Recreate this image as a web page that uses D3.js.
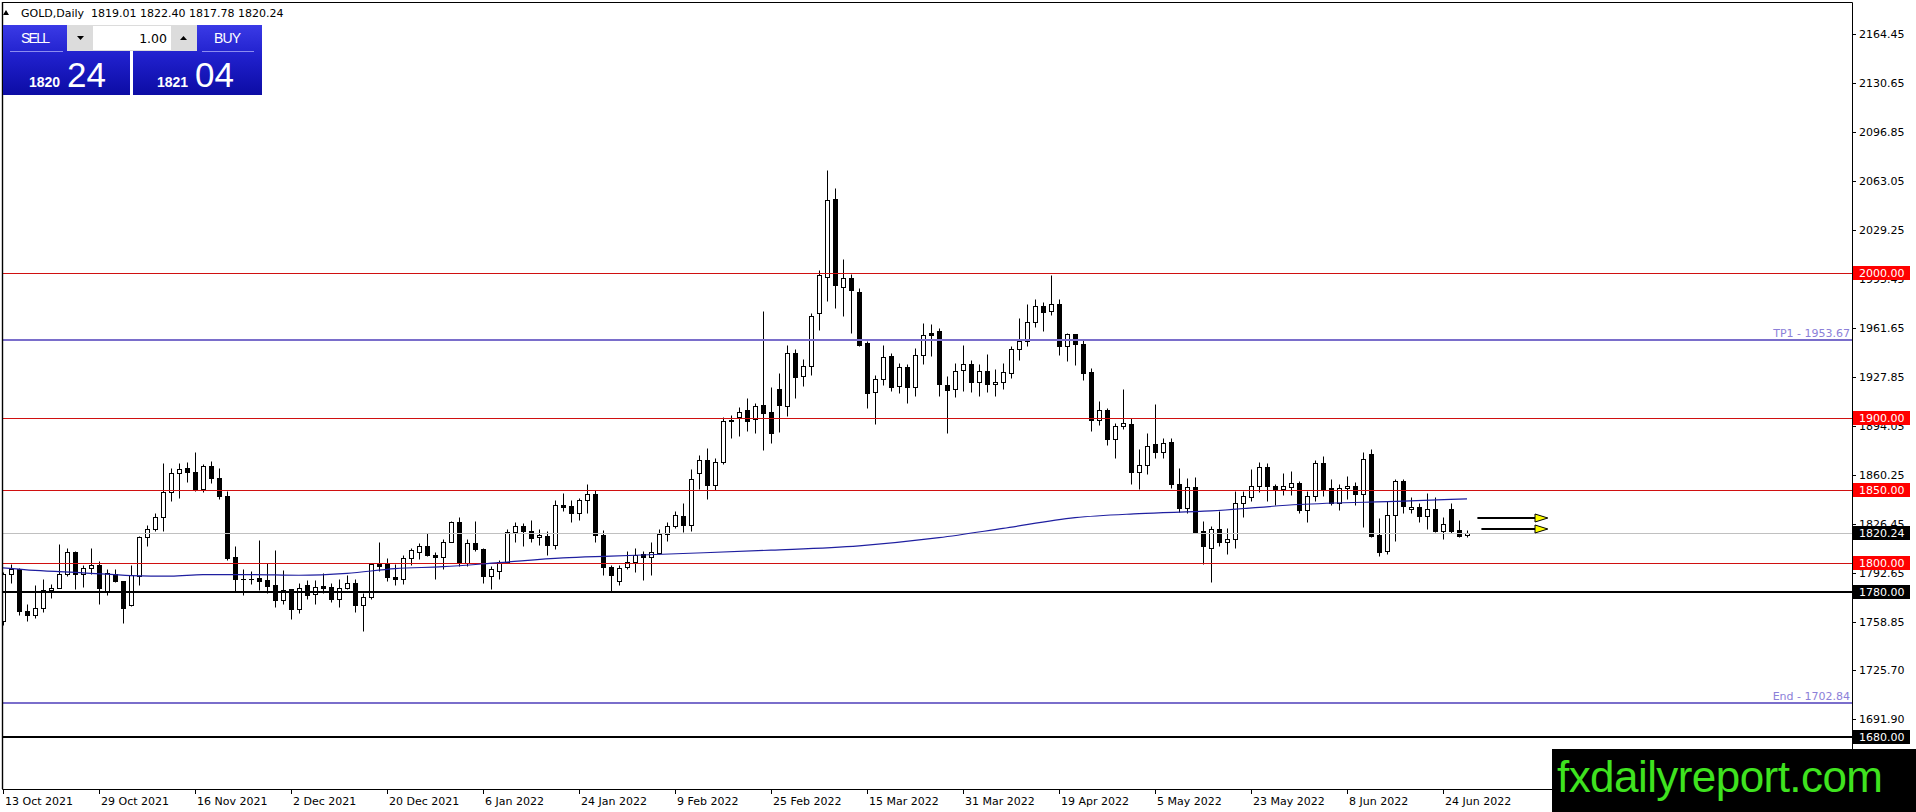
<!DOCTYPE html>
<html>
<head>
<meta charset="utf-8">
<style>
body{margin:0;background:#fff;overflow:hidden}
svg{display:block}
text{font-family:"DejaVu Sans",sans-serif}
</style>
<script src="https://d3js.org/d3.v7.min.js"></script>
</head>
<body>
<svg id="chart" width="1916" height="812"></svg>
<script>
// GOLD daily candles, 13 Oct 2021 .. 29 Jun 2022
const opens = [1759.6,1792.3,1795.3,1766.5,1763.8,1768.8,1781,1782.6,1792.3,1807.5,
1792.3,1796.4,1798.5,1779.9,1792.3,1787.2,1770.7,1790.7,1817.8,1823.3,
1831.6,1848.9,1861.5,1865.4,1862.7,1850.5,1867,1858.5,1845.9,1804,
1788.8,1788.4,1789.2,1788.3,1784.4,1774.2,1781.6,1767.8,1784.4,1778.2,
1783.6,1783,1775.2,1782.8,1786.2,1770.6,1776.5,1799.3,1799.3,1790.3,
1789,1803.5,1807.6,1811.5,1805.3,1804.1,1814.5,1828.3,1799.8,1813.8,
1809.7,1790.8,1794.1,1800.3,1821,1825.2,1821.7,1817.6,1818.3,1812.5,
1840.1,1839.4,1834.4,1842.9,1847.5,1819,1797.1,1787.2,1797.1,1800.3,
1806.1,1804,1806.7,1819.9,1825.6,1832.5,1826.3,1861.5,1870.7,1853.3,
1869.4,1898,1900.6,1905.2,1898.8,1908.7,1903.9,1920,1908,1944.8,
1928.7,1935.6,1972.4,1997.2,2050.6,1990.3,1996.6,1986.9,1951.2,1917.9,
1926.9,1942.5,1921.8,1935.1,1921.3,1943.2,1958.1,1959.8,1922.5,1919.6,
1932.7,1937.3,1924.8,1932.2,1923.5,1924.8,1931,1947.1,1952.9,1966.2,
1977.1,1973.6,1978.2,1949.5,1957.5,1951.1,1931.7,1898.2,1905.1,1885.5,
1894.3,1895.9,1862.7,1867.3,1881.6,1876.5,1883.4,1854,1837.9,1852.2,
1821.8,1810.2,1823.3,1814.3,1816.4,1841.3,1845.4,1852.8,1866.1,1853.2,
1850.5,1852.3,1855.1,1836.2,1846.3,1868.4,1851.6,1841.3,1851.6,1853.2,
1847.5,1874.6,1819.4,1807.9,1833.2,1856.2,1837.1,1838.5,1832.1,1837.1,
1821.7,1837.1,1822.2,1819.01];
const highs = [1793.5,1799.4,1796.5,1771.6,1784.9,1788.4,1785.4,1813.2,1809.8,1807.8,
1798.7,1809.8,1801,1795.3,1795.7,1787.5,1798.7,1818.3,1826.3,1833.9,
1868.4,1865.4,1868.4,1869.3,1876.5,1867.7,1870,1865.4,1849.3,1811.8,
1795.7,1794.3,1815.6,1799.5,1808.7,1794.9,1781.8,1785.7,1787.8,1787.8,
1792.6,1785.7,1789,1791.3,1789,1779.3,1799.5,1814.3,1803.5,1799.3,
1805.1,1809.9,1813.3,1820.2,1807.6,1816.6,1828.5,1831.7,1816.6,1828.8,
1810.4,1797.7,1801.7,1822.9,1827.9,1827.5,1829.3,1822.9,1821.7,1843.1,
1847.7,1843.1,1844.7,1853.9,1850,1822.2,1798.7,1798.7,1807.9,1810.2,
1807.9,1814.4,1823.3,1828.2,1835.5,1841.3,1864.8,1874,1879.3,1872.4,
1900.6,1901.8,1907.5,1913.8,1909.8,1973.5,1921.3,1931,1949.9,1947.6,
1940.7,1972.4,2001.8,2070.6,2058.7,2009.2,1998.9,1989.7,1952.9,1929.2,
1949.9,1944.8,1937.4,1936.8,1948.3,1965.5,1964.4,1962,1928.8,1938,
1950.1,1939.6,1936.8,1944.2,1933.4,1938,1949.5,1969,1978.7,1981.7,
1980,1998.2,1981.7,1958.7,1957.5,1954,1934,1911.5,1906.9,1896.6,
1919.6,1900,1878.2,1889.7,1909.7,1886.2,1886.2,1865,1858.6,1859.1,
1828.7,1825.6,1835.5,1824,1849.3,1849.3,1864.7,1869.3,1868.4,1853.9,
1861.5,1863.1,1856.2,1849.3,1870.7,1873.9,1857.4,1853.9,1859.7,1855.5,
1876.2,1878.5,1830.9,1842.4,1857.4,1857.4,1845.4,1841.3,1848.2,1845.4,
1831.6,1840.8,1829.3,1822.4];
const lows = [1757.3,1786,1763.8,1759.6,1761.9,1766.1,1775.3,1782.3,1791.1,1781.5,
1783,1792.3,1771.6,1778,1786.5,1758.5,1770,1784.5,1811.4,1821.7,
1821.7,1842.4,1844.7,1855.5,1849.3,1849,1855,1844,1801.7,1780.3,
1778,1785,1781.1,1779.3,1769.6,1771.7,1760.9,1765,1774.7,1771.3,
1778.8,1772.9,1769.6,1781.6,1766,1752.9,1775.2,1794.3,1787.4,1784.6,
1785,1798.4,1802.8,1804.6,1788.5,1795.9,1814.3,1797.7,1797.7,1808,
1786.2,1782,1789,1800,1814.1,1811.4,1814.1,1812.5,1805.2,1809.5,
1835.5,1827.9,1829.3,1834.4,1814.1,1791.4,1780.3,1784.9,1795.3,1793.4,
1787.9,1791.4,1806.3,1814.8,1824,1821,1821.5,1850.5,1844,1849.8,
1867.8,1886.2,1887.3,1890.8,1889.1,1877.6,1882.2,1890,1901.1,1913.8,
1921.8,1929.2,1960.4,1980.5,1975.9,1970.1,1958.6,1949.4,1906.9,1895.4,
1922.3,1918.4,1917.2,1910.3,1914.9,1936.8,1942.5,1915,1889.7,1914,
1918.4,1917.9,1915,1917.9,1915,1919.6,1927.1,1939.6,1949.5,1962.6,
1959.8,1970.8,1943.2,1939.1,1936.3,1925.8,1890.8,1894.9,1881.1,1871.9,
1892,1854,1850.5,1861.4,1871.9,1871.9,1851.7,1835.1,1834.5,1820.6,
1798.8,1786.5,1811.8,1806.3,1810.2,1831.6,1842.4,1848.6,1842.4,1840.1,
1847,1847,1833.9,1827.9,1842.4,1845.9,1839.6,1836.2,1843.6,1839.6,
1824.7,1817.8,1804.5,1806.3,1814.8,1833.9,1833.9,1827.9,1822.9,1821,
1816.4,1820.1,1817.8,1817.78];
const closes = [1792.3,1795.3,1766.5,1763.8,1768.8,1781,1782.6,1792.3,1807.5,1792.3,
1796.4,1798.5,1782.4,1793,1787.2,1768.8,1791.8,1817.8,1823.3,1831.6,
1848.9,1861.5,1864.3,1862.7,1850.5,1867,1858.5,1845.9,1803.3,1788.8,
1788.4,1788.5,1787.6,1783.9,1774.2,1781.1,1767.8,1782.8,1777.5,1783.4,
1782.5,1775.2,1782.8,1786.2,1770.6,1776.5,1799.3,1797.7,1790.1,1789,
1803.5,1808.5,1811.5,1805.3,1804.1,1814.5,1828.3,1800.5,1813.8,1809.7,
1790.8,1795.9,1800.3,1821,1825.2,1821.7,1817.1,1819,1812.5,1839.6,
1838.3,1833.9,1842.9,1847.5,1819,1797.1,1791.4,1796.4,1800.3,1805.6,
1804,1807.4,1819.9,1825.2,1832.8,1826.3,1857.9,1870.7,1853.3,1869.4,
1897.6,1898.1,1903.9,1897.6,1908,1903.4,1889.1,1908.5,1944.8,1928.2,
1935.6,1970.1,1998.2,2049.9,1991.5,1996.6,1988,1949.9,1917.2,1926.9,
1942,1921.3,1935.1,1921.3,1943.2,1957,1957,1923,1919.1,1932.2,
1937.3,1924.8,1932.2,1923.5,1924.8,1931.7,1947.6,1952.9,1966.2,1977.1,
1973.1,1978.7,1949.5,1957.5,1951.1,1931,1898.2,1905.1,1885.5,1894.3,
1896.6,1862.7,1867.3,1880.5,1876.5,1882.8,1854,1837.9,1852.2,1821.1,
1811.5,1823.3,1814.1,1816,1841.3,1845.9,1853.2,1866.1,1852.8,1850.9,
1853.2,1854.6,1836.2,1846.3,1868.4,1850.5,1840.8,1851.6,1852.8,1847.5,
1871.2,1818.3,1807.2,1833.2,1856.2,1839,1838.5,1832.1,1837.1,1821.7,
1826.8,1821.7,1818.3,1820.24];

// moving average, read at a few bars
const maIdx  = [0,4,10,16,21,25,31,37,43,49,55,62,70,76,85,96,107,117,125,134,142,151,162,175,183];
const maVals = [1796.4,1794.6,1793,1791.1,1790.7,1791.8,1791.8,1791.3,1792.6,1795.9,1797.2,1800,1803.3,1804.5,1806.3,1808.6,1811.6,1817.2,1823.6,1831,1833.8,1835.7,1840.1,1842.4,1844];

// time axis
const dateIdx = [0,12,24,36,48,60,72,84,96,108,120,132,144,156,168,180];
const dateLabels = ["13 Oct 2021","29 Oct 2021","16 Nov 2021","2 Dec 2021","20 Dec 2021","6 Jan 2022",
  "24 Jan 2022","9 Feb 2022","25 Feb 2022","15 Mar 2022","31 Mar 2022","19 Apr 2022","5 May 2022",
  "23 May 2022","8 Jun 2022","24 Jun 2022"];

// price axis
const priceTicks = ["2164.45","2130.65","2096.85","2063.05","2029.25","1995.45","1961.65","1927.85",
  "1894.05","1860.25","1826.45","1792.65","1758.85","1725.70","1691.90"];

// drawn levels
const redLevels = [2000, 1900, 1850, 1800];
const blackLevels = [1780, 1680];
const tpNames = ["TP1", "End"];
const tpValues = [1953.67, 1702.84];
const lastPrice = 1820.24;
const arrowPrices = [1830.9, 1822.9];

const header = "GOLD,Daily  1819.01 1822.40 1817.78 1820.24";

const svg = d3.select("#chart");
const W = 1916, H = 812;
const axisX = 1852, bottomY = 789;

const x = d3.scaleLinear().domain([0, 183]).range([3, 1467]);
const y = d3.scaleLinear().domain([1680, 2164.45]).range([736.6, 34.3]);
const py = v => Math.round(y(v)) + 0.5;

svg.append("rect").attr("width", W).attr("height", H).attr("fill", "#fff");

svg.append("defs").append("clipPath").attr("id", "plot")
  .append("rect").attr("x", 3).attr("y", 3).attr("width", axisX - 3).attr("height", bottomY - 3);

const plot = svg.append("g").attr("clip-path", "url(#plot)");

// candles
const bars = d3.range(opens.length).map(i => ({i, o: opens[i], h: highs[i], l: lows[i], c: closes[i]}));
const cg = plot.append("g");
cg.selectAll("line.wick").data(bars).enter().append("line")
  .attr("x1", d => x(d.i) + 0.5).attr("x2", d => x(d.i) + 0.5)
  .attr("y1", d => py(d.h)).attr("y2", d => py(d.l))
  .attr("stroke", "#000").attr("stroke-width", 1);
cg.selectAll("rect.body").data(bars).enter().append("rect")
  .attr("x", d => x(d.i) - 1.5)
  .attr("y", d => py(Math.max(d.o, d.c)))
  .attr("width", 4)
  .attr("height", d => Math.max(py(Math.min(d.o, d.c)) - py(Math.max(d.o, d.c)), 0.01))
  .attr("fill", d => d.c >= d.o ? "#fff" : "#000")
  .attr("stroke", "#000").attr("stroke-width", 1);

// bid line
plot.append("line").attr("x1", 3).attr("x2", axisX).attr("y1", py(lastPrice)).attr("y2", py(lastPrice))
  .attr("stroke", "#c0c0c0").attr("stroke-width", 1);

// horizontal levels
plot.selectAll("line.red").data(redLevels).enter().append("line")
  .attr("x1", 3).attr("x2", axisX).attr("y1", d => py(d)).attr("y2", d => py(d))
  .attr("stroke", "#d01010").attr("stroke-width", 1);
plot.selectAll("line.blk").data(blackLevels).enter().append("line")
  .attr("x1", 3).attr("x2", axisX).attr("y1", d => Math.round(y(d))).attr("y2", d => Math.round(y(d)))
  .attr("stroke", "#000").attr("stroke-width", 2);
plot.selectAll("line.tp").data(tpValues).enter().append("line")
  .attr("x1", 3).attr("x2", axisX).attr("y1", d => Math.round(y(d))).attr("y2", d => Math.round(y(d)))
  .attr("stroke", "#7a6ecb").attr("stroke-width", 1.8);
plot.selectAll("text.tp").data(tpValues).enter().append("text")
  .attr("x", axisX - 2).attr("y", d => Math.round(y(d)) - 3)
  .attr("text-anchor", "end").attr("font-size", 11).attr("fill", "#8c80d8")
  .text((d, k) => tpNames[k] + " - " + d.toFixed(2));

// moving average
const ma = maIdx.map((i, k) => [i, maVals[k]]);
plot.append("path").datum(ma)
  .attr("d", d3.line().x(d => x(d[0])).y(d => y(d[1])).curve(d3.curveMonotoneX))
  .attr("fill", "none").attr("stroke", "#1f1fa0").attr("stroke-width", 1.2);

// arrows
const ag = plot.append("g");
arrowPrices.forEach((p, k) => {
  const yy = Math.round(y(p));
  const x0 = x(184.3 + k * 0.5), x1 = x(191.5), x2 = x(193.1);
  ag.append("line").attr("x1", x0).attr("x2", x1).attr("y1", yy).attr("y2", yy)
    .attr("stroke", "#000").attr("stroke-width", 2.2);
  ag.append("path").attr("d", `M${x1},${yy - 4}L${x2},${yy}L${x1},${yy + 4}Z`)
    .attr("fill", "#ffff00").attr("stroke", "#000").attr("stroke-width", 1);
});

// frame
svg.append("path").attr("d", `M${axisX + 0.5},2.5H2.5V${bottomY + 0.5}H${axisX + 0.5}V2.5`)
  .attr("fill", "none").attr("stroke", "#000").attr("stroke-width", 1);
svg.append("line").attr("x1", 2.5).attr("x2", 2.5).attr("y1", 2).attr("y2", bottomY)
  .attr("stroke", "#000").attr("stroke-width", 1.4);

// price axis ticks and labels
const pg = svg.append("g");
pg.selectAll("line").data(priceTicks).enter().append("line")
  .attr("x1", axisX).attr("x2", axisX + 4)
  .attr("y1", d => py(+d)).attr("y2", d => py(+d))
  .attr("stroke", "#000");
pg.selectAll("text").data(priceTicks).enter().append("text")
  .attr("x", axisX + 7).attr("y", d => py(+d)).attr("dy", "0.36em")
  .attr("font-size", 11).attr("fill", "#000").text(d => d);

// level boxes on the axis
function tag(v, fill) {
  const yy = Math.round(y(v));
  svg.append("rect").attr("x", axisX + 1).attr("y", yy - 7).attr("width", 57).attr("height", 14).attr("fill", fill);
  svg.append("text").attr("x", axisX + 7).attr("y", yy).attr("dy", "0.38em")
    .attr("font-size", 11).attr("fill", "#fff").text(v.toFixed(2));
}
redLevels.forEach(v => tag(v, "#ff0000"));
tag(lastPrice, "#000");
blackLevels.forEach(v => tag(v, "#000"));

// time axis
const tg = svg.append("g");
tg.selectAll("line").data(dateIdx).enter().append("line")
  .attr("x1", d => x(d) + 0.5).attr("x2", d => x(d) + 0.5)
  .attr("y1", bottomY).attr("y2", bottomY + 5).attr("stroke", "#000");
tg.selectAll("text").data(dateIdx).enter().append("text")
  .attr("x", d => x(d) + 2).attr("y", bottomY + 16)
  .attr("font-size", 11).attr("fill", "#000").text((d, k) => dateLabels[k]);

// header
svg.append("path").attr("d", "M3,15L9,15L6,10Z").attr("fill", "#000");
svg.append("text").attr("x", 21).attr("y", 13).attr("dy", "0.36em")
  .attr("font-size", 11).attr("fill", "#000").style("white-space", "pre").text(header);

// one-click trading panel
const defs = svg.select("defs");
const grad = defs.append("linearGradient").attr("id", "blue").attr("x1", 0).attr("y1", 0).attr("x2", 0).attr("y2", 1);
grad.append("stop").attr("offset", "0%").attr("stop-color", "#3a3ae6");
grad.append("stop").attr("offset", "45%").attr("stop-color", "#2020cc");
grad.append("stop").attr("offset", "100%").attr("stop-color", "#0c0ca4");
const panel = svg.append("g");
panel.append("rect").attr("x", 3).attr("y", 25).attr("width", 127).attr("height", 70).attr("fill", "url(#blue)");
panel.append("rect").attr("x", 133).attr("y", 25).attr("width", 129).attr("height", 70).attr("fill", "url(#blue)");
panel.append("line").attr("x1", 10).attr("x2", 63).attr("y1", 51.5).attr("y2", 51.5).attr("stroke", "#8c8cf0");
panel.append("line").attr("x1", 202).attr("x2", 254).attr("y1", 51.5).attr("y2", 51.5).attr("stroke", "#8c8cf0");
panel.append("rect").attr("x", 67).attr("y", 25).attr("width", 130).attr("height", 26).attr("fill", "#dcdcdc");
panel.append("rect").attr("x", 93).attr("y", 26).attr("width", 78).attr("height", 24).attr("fill", "#fff");
panel.append("path").attr("d", "M77,36H84L80.5,40Z").attr("fill", "#000");
panel.append("path").attr("d", "M180,40H187L183.5,36Z").attr("fill", "#000");
panel.append("text").attr("x", 167).attr("y", 38).attr("dy", "0.36em").attr("text-anchor", "end")
  .attr("font-size", 12.5).attr("fill", "#000").text("1.00");
const pf = "'Liberation Sans',Arial,sans-serif";
panel.append("text").attr("x", 35.5).attr("y", 38).attr("dy", "0.36em").attr("text-anchor", "middle")
  .style("font-family", pf).attr("font-size", 14).attr("fill", "#fff").attr("textLength", 29).text("SELL");
panel.append("text").attr("x", 227.5).attr("y", 38).attr("dy", "0.36em").attr("text-anchor", "middle")
  .style("font-family", pf).attr("font-size", 14).attr("fill", "#fff").attr("textLength", 27).text("BUY");
panel.append("text").attr("x", 29).attr("y", 87).style("font-family", pf).attr("font-weight", "bold")
  .attr("font-size", 14).attr("fill", "#fff").text("1820");
panel.append("text").attr("x", 67).attr("y", 87).style("font-family", pf)
  .attr("font-size", 35).attr("fill", "#fff").text("24");
panel.append("text").attr("x", 157).attr("y", 87).style("font-family", pf).attr("font-weight", "bold")
  .attr("font-size", 14).attr("fill", "#fff").text("1821");
panel.append("text").attr("x", 195).attr("y", 87).style("font-family", pf)
  .attr("font-size", 35).attr("fill", "#fff").text("04");

// watermark
svg.append("rect").attr("x", 1552).attr("y", 749).attr("width", W - 1552).attr("height", H - 749).attr("fill", "#000");
svg.append("text").attr("x", 1557).attr("y", 792).style("font-family", pf)
  .attr("font-size", 44).attr("fill", "#3fe31f").attr("textLength", 326).text("fxdailyreport.com");
</script>
</body>
</html>
